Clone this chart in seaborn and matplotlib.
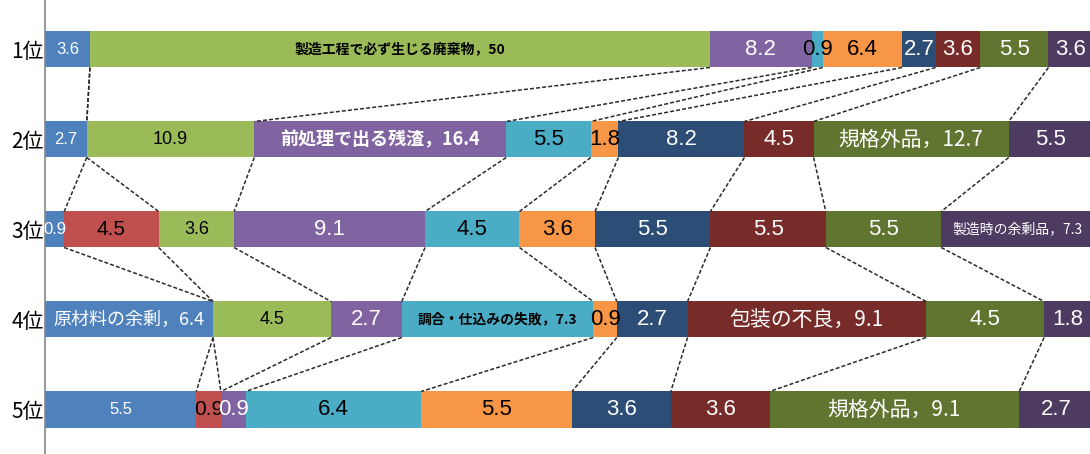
import matplotlib
matplotlib.use("Agg")
import matplotlib.pyplot as plt
from matplotlib import font_manager
import pandas as pd
import seaborn as sns

# 順位ごとの回答割合（%）
ranks = ["1位", "2位", "3位", "4位", "5位"]

reasons = [
    "原材料の余剰",
    "理由B",
    "製造工程で必ず生じる廃棄物",
    "前処理で出る残渣",
    "調合・仕込みの失敗",
    "理由F",
    "理由G",
    "包装の不良",
    "規格外品",
    "製造時の余剰品",
]

raw_surplus = [3.6, 2.7, 0.9, 6.4, 5.5]
reason_b = [0.0, 0.0, 4.5, 0.0, 0.9]
process_waste = [50.0, 10.9, 3.6, 4.5, 0.0]
pretreat_residue = [8.2, 16.4, 9.1, 2.7, 0.9]
mixing_failure = [0.9, 5.5, 4.5, 7.3, 6.4]
reason_f = [6.4, 1.8, 3.6, 0.9, 5.5]
reason_g = [2.7, 8.2, 5.5, 2.7, 3.6]
packaging_defect = [3.6, 4.5, 5.5, 9.1, 3.6]
off_spec = [5.5, 12.7, 5.5, 4.5, 9.1]
production_surplus = [3.6, 5.5, 7.3, 1.8, 2.7]

# 各順位の回答者全体（%）: 100% 積み上げの基準
rank_totals = [100.0, 80.7, 59.1, 47.3, 45.2]

# 系列名を添えて表示するラベル (順位, 系列)
named_labels = [
    ("1位", "製造工程で必ず生じる廃棄物"),
    ("2位", "前処理で出る残渣"),
    ("2位", "規格外品"),
    ("3位", "製造時の余剰品"),
    ("4位", "原材料の余剰"),
    ("4位", "調合・仕込みの失敗"),
    ("4位", "包装の不良"),
    ("5位", "規格外品"),
]

series_values = [raw_surplus, reason_b, process_waste, pretreat_residue,
                 mixing_failure, reason_f, reason_g, packaging_defect,
                 off_spec, production_surplus]

# ---- 見た目の設定 ----
colors = ["#4F81BD", "#C0504D", "#9BBB59", "#8064A2", "#4BACC6",
          "#F79646", "#2C4D75", "#772C2A", "#5F7530", "#4D3B62"]
label_colors = ["white", "black", "black", "white", "black",
                "black", "white", "white", "white", "white"]
label_sizes = [12, 15, 13, 16, 16, 16, 16, 16, 16, 16]
named_styles = {
    ("1位", "製造工程で必ず生じる廃棄物"): (10, "bold"),
    ("2位", "前処理で出る残渣"): (13, "bold"),
    ("2位", "規格外品"): (15, "normal"),
    ("3位", "製造時の余剰品"): (10, "normal"),
    ("4位", "原材料の余剰"): (13, "normal"),
    ("4位", "調合・仕込みの失敗"): (10, "bold"),
    ("4位", "包装の不良"): (15, "normal"),
    ("5位", "規格外品"): (15, "normal"),
}

sns.set_style("white")
installed = {f.name for f in font_manager.fontManager.ttflist}
num_font = "Liberation Sans Narrow" if "Liberation Sans Narrow" in installed else "Liberation Sans"
cjk_font = ["Noto Sans CJK JP", "DejaVu Sans"]
plt.rcParams["font.family"] = cjk_font

# ---- データ整形 ----
rows = []
for name, vals in zip(reasons, series_values):
    for r, v, tot in zip(ranks, vals, rank_totals):
        rows.append({"rank": r, "reason": name, "value": v, "pct": v / tot * 100})
df = pd.DataFrame(rows)
df["reason"] = pd.Categorical(df["reason"], categories=reasons, ordered=True)
df["rank"] = pd.Categorical(df["rank"], categories=ranks, ordered=True)
df = df.sort_values(["rank", "reason"]).reset_index(drop=True)
df["cum_end"] = df.groupby("rank", observed=True)["pct"].cumsum()
df["cum_start"] = df["cum_end"] - df["pct"]

fig = plt.figure(figsize=(10.9, 4.54), dpi=100)
ax = fig.add_axes([45.3 / 1090, 0.0, 1 - 45.3 / 1090, 1.0])

bar_h = 0.4
# 後ろの系列から累積長で重ね描きして積み上げ棒にする
for j in range(len(reasons) - 1, -1, -1):
    sub = df[df["reason"] == reasons[j]]
    sns.barplot(data=sub, x="cum_end", y="rank", order=ranks, orient="h",
                color=colors[j], saturation=1, width=bar_h, errorbar=None,
                linewidth=0, ax=ax)

# 系列線（隣り合う順位の同じ系列の終端を結ぶ破線）
for i in range(len(ranks) - 1):
    upper = df[df["rank"] == ranks[i]].set_index("reason")
    lower = df[df["rank"] == ranks[i + 1]].set_index("reason")
    for name in reasons:
        ax.plot([upper.loc[name, "cum_end"], lower.loc[name, "cum_end"]],
                [i + bar_h / 2, i + 1 - bar_h / 2],
                color="#2a2a2a", lw=1.1, ls=(0, (2.6, 1.4)), zorder=1)

# データラベル
named_set = set(named_labels)
for _, row in df.iterrows():
    if row["value"] <= 0:
        continue
    j = reasons.index(row["reason"])
    yi = ranks.index(row["rank"])
    xc = row["cum_start"] + row["pct"] / 2
    key = (row["rank"], row["reason"])
    if key in named_set:
        size, weight = named_styles[key]
        ax.text(xc, yi, f"{row['reason']}，{row['value']:g}", ha="center",
                va="center", color=label_colors[j], fontsize=size,
                fontweight=weight, family=cjk_font, zorder=5)
    else:
        ax.text(xc, yi, f"{row['value']:g}", ha="center", va="center",
                color=label_colors[j], fontsize=label_sizes[j],
                family=[num_font, "DejaVu Sans"], zorder=5)

ax.set_xlim(0, 84.25)
ax.set_ylim((454 - 49.5) / 90, -49.5 / 90)
ax.set_xlabel("")
ax.set_ylabel("")
ax.set_xticks([])
ax.tick_params(axis="y", length=0, pad=1, labelsize=15, labelcolor="black")
for lab in ax.get_yticklabels():
    lab.set_family(cjk_font)
for side in ["top", "right", "bottom"]:
    ax.spines[side].set_visible(False)
ax.spines["left"].set_color("#868686")
ax.spines["left"].set_linewidth(1.2)
ax.set_facecolor("white")
ax.grid(False)

fig.savefig("out.png", dpi=100, facecolor="white")
